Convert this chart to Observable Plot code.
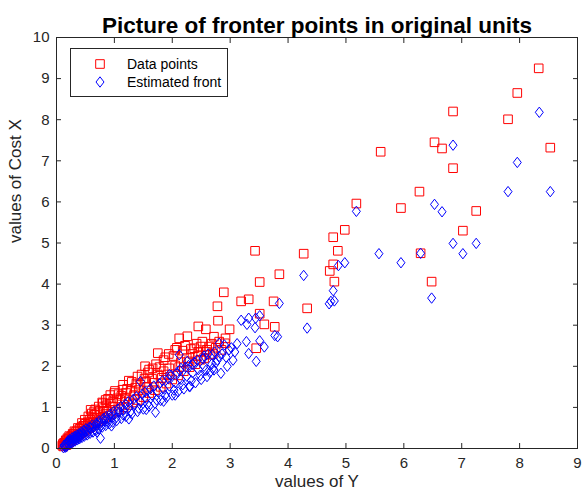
<!DOCTYPE html>
<html><head><meta charset="utf-8">
<script src="https://cdn.jsdelivr.net/npm/d3@7"></script>
<script src="https://cdn.jsdelivr.net/npm/@observablehq/plot@0.6"></script>
<style>
body{margin:0;background:#fff;}
#wrap{position:relative;width:582px;height:495px;font-family:"Liberation Sans",Arial,Helvetica,sans-serif;}
#legend{position:absolute;left:70px;top:48px;width:158px;height:49px;border:1px solid #262626;background:#fff;box-sizing:border-box;font-size:14px;color:#000;}
#legend .row{position:absolute;left:0;height:18px;line-height:18px;white-space:nowrap;}
#legend svg{position:absolute;left:20px;top:0;}
#legend span{position:absolute;left:56px;top:0;}
</style></head>
<body>
<div id="wrap"><div id="chart"></div><div id="legend"></div></div>
<script>
const xTicks = [0,1,2,3,4,5,6,7,8,9];
const yTicks = [0,1,2,3,4,5,6,7,8,9,10];
const titleText = "Picture of fronter points in original units";
const xLabel = "values of Y";
const yLabel = "values of Cost X";
const seriesNames = ["Data points", "Estimated front"];

// Data points (red squares): Y value, cost X
const dataY = [8.33,7.96,8.53,7.80,6.85,6.85,6.53,6.66,5.60,6.27,6.29,5.95,7.25,7.02,6.48,5.18,4.98,4.78,4.86,4.27,4.78,4.72,4.80,3.85,4.33,3.43,3.51,2.89,3.19,3.32,3.75,2.78,3.51,2.79,3.59,3.77,2.99,2.45,2.58,2.12,2.26,3.45,2.72,2.92,2.38,2.49,2.64,2.81,2.91,2.49,1.75,1.53,1.40,1.14,0.89,0.59,
0.12,0.14,0.15,0.17,0.18,0.20,0.21,0.23,0.24,0.26,0.27,0.29,0.30,0.32,0.33,0.35,0.36,0.38,0.40,0.41,0.43,0.45,0.46,0.48,0.50,0.52,0.54,0.56,0.58,0.60,0.62,0.64,0.66,0.68,0.70,0.72,0.75,0.78,0.80,0.83,0.86,0.89,0.92,0.95,0.98,1.02,1.05,1.08,1.12,1.16,1.20,1.24,1.28,1.32,1.36,1.40,1.45,1.50,1.55,1.60,1.65,1.70,1.75,1.80,1.85,1.90,1.95,2.00,2.05,2.10,2.15,2.20,2.25,2.30,2.35,2.40,2.45,2.55,2.60,2.65,1.25,1.00,0.80,0.65,1.60,1.85,2.05,
0.22,0.31,0.37,0.44,0.49,0.55,0.61,0.67,0.73,0.79,0.85,0.93,1.01,1.07,1.15,1.22,1.30,1.38,1.47,1.52,1.58,1.66,1.72,1.78,1.88,1.94,2.02,2.08,2.18,2.22,2.32,2.42,2.52,2.68,2.75,0.47,0.57,0.69,0.87,0.97,1.10,1.18,1.34,1.42,1.57,1.68,1.82,1.92,2.12,2.28,2.44,2.58,2.70,2.85,0.28,0.19,0.16,0.13,0.10,0.11];
const dataCost = [9.25,8.65,7.32,8.01,8.20,6.82,7.45,7.30,7.22,6.25,4.75,5.85,5.78,5.30,4.06,5.96,5.32,5.14,4.81,4.74,4.48,4.32,4.06,4.24,3.41,4.81,4.05,3.80,3.58,3.63,3.58,3.46,3.28,3.11,3.02,2.96,2.90,2.97,2.90,2.68,2.73,2.44,2.72,2.68,2.44,2.48,2.48,2.60,2.56,2.16,2.32,2.00,1.75,1.43,1.21,0.94,
0.05,0.10,0.15,0.08,0.20,0.13,0.24,0.17,0.28,0.20,0.32,0.24,0.35,0.27,0.40,0.30,0.44,0.33,0.48,0.36,0.52,0.40,0.55,0.43,0.60,0.46,0.64,0.50,0.70,0.53,0.76,0.58,0.82,0.62,0.86,0.66,0.92,0.70,0.98,0.75,1.05,0.80,1.10,0.85,1.15,0.90,1.22,0.95,1.28,1.00,1.35,1.06,1.40,1.12,1.48,1.18,1.55,1.25,1.62,1.35,1.70,1.42,1.80,1.50,1.88,1.58,1.95,1.68,2.02,1.78,2.10,1.88,2.20,1.98,2.30,2.05,2.35,2.20,2.40,2.28,1.65,1.35,1.10,0.90,1.92,2.15,2.40,
0.30,0.42,0.50,0.62,0.70,0.78,0.85,0.95,1.02,1.12,1.18,1.30,1.40,1.32,1.55,1.45,1.62,1.58,1.80,1.70,1.85,1.95,2.05,1.98,2.22,2.30,2.25,2.45,2.38,2.50,2.42,2.55,2.60,2.55,2.45,0.55,0.62,0.75,0.92,1.02,1.18,1.22,1.30,1.42,1.50,1.60,1.72,1.80,1.98,2.12,2.25,2.35,2.30,2.40,0.36,0.25,0.20,0.14,0.07,0.11];

// Estimated front (blue diamonds): Y value, cost X
const frontY = [8.34,7.96,8.53,7.80,6.85,6.85,6.53,6.66,5.57,6.29,5.95,7.25,7.02,6.48,5.18,4.98,4.87,4.27,4.78,4.74,4.71,4.80,3.85,4.33,3.43,3.51,3.19,3.32,3.44,3.29,3.77,3.82,3.28,3.51,3.59,3.32,3.45,2.90,2.81,2.98,2.69,2.81,2.75,2.84,2.72,2.26,2.12,
0.12,0.14,0.16,0.17,0.19,0.21,0.22,0.24,0.26,0.28,0.30,0.32,0.34,0.36,0.38,0.40,0.42,0.44,0.46,0.48,0.50,0.53,0.55,0.58,0.60,0.63,0.65,0.68,0.70,0.73,0.76,0.79,0.82,0.85,0.88,0.91,0.94,0.97,1.00,1.04,1.08,1.12,1.16,1.20,1.25,1.30,1.35,1.40,1.45,1.50,1.55,1.60,1.65,1.70,1.75,1.80,1.85,1.90,1.95,2.00,2.05,2.10,2.15,2.20,2.25,2.30,2.35,2.40,2.45,2.50,2.55,2.60,2.65,2.70,0.76,1.71,1.45,2.35,2.55,1.95,2.15,
0.13,0.15,0.18,0.20,0.23,0.25,0.27,0.29,0.31,0.33,0.35,0.37,0.39,0.41,0.43,0.47,0.51,0.54,0.57,0.62,0.66,0.69,0.74,0.78,0.81,0.86,0.90,0.93,0.99,1.03,1.06,1.11,1.15,1.19,1.24,1.28,1.33,1.38,1.42,1.48,1.53,1.57,1.62,1.68,1.73,1.78,1.83,1.88,1.93,1.98,2.03,2.08,2.13,2.18,2.23,2.28,2.33,2.38,2.43,2.48,2.53,2.58,2.62,2.68,2.73,2.78,2.86,2.93,3.02,3.08,3.12,3.05,2.95,1.25,1.55,1.85,2.05,2.30,0.95,0.70];
const frontCost = [8.18,6.96,6.25,6.25,7.38,4.99,5.94,5.76,4.74,4.75,4.52,4.99,4.74,3.66,5.77,4.52,4.45,4.21,3.84,3.58,3.52,3.59,3.53,2.93,2.94,3.23,3.12,3.17,3.17,3.02,2.75,2.72,2.60,2.62,2.47,2.31,2.12,2.52,2.56,2.40,2.28,2.24,2.08,1.83,1.91,2.12,2.28,
0.02,0.06,0.10,0.04,0.14,0.09,0.17,0.12,0.20,0.15,0.24,0.18,0.27,0.21,0.30,0.24,0.34,0.27,0.37,0.30,0.41,0.33,0.45,0.37,0.49,0.40,0.53,0.44,0.57,0.48,0.62,0.52,0.67,0.56,0.72,0.60,0.77,0.64,0.82,0.68,0.88,0.73,0.94,0.78,1.00,0.84,1.07,0.90,1.14,0.96,1.22,1.03,1.30,1.10,1.38,1.17,1.45,1.24,1.52,1.30,1.60,1.38,1.68,1.45,1.76,1.52,1.84,1.60,1.92,1.68,2.00,1.75,1.85,1.95,0.25,0.88,1.63,2.05,2.25,1.80,1.95,
0.08,0.03,0.12,0.19,0.22,0.16,0.26,0.20,0.29,0.23,0.33,0.26,0.36,0.29,0.40,0.44,0.48,0.39,0.52,0.57,0.47,0.62,0.67,0.57,0.73,0.78,0.66,0.84,0.90,0.75,0.96,1.02,0.82,1.08,1.14,0.90,1.20,1.26,0.98,1.32,1.38,1.08,1.45,1.52,1.18,1.58,1.65,1.30,1.70,1.78,1.42,1.85,1.90,1.55,1.98,2.02,1.65,2.10,2.15,1.78,2.18,1.90,2.30,2.05,2.35,2.15,2.30,2.22,2.45,2.35,2.55,2.15,2.00,0.72,0.95,1.15,1.30,1.50,0.55,0.40];

const dataPts = dataY.map((y, i) => ({y, cost: dataCost[i]}));
const frontPts = frontY.map((y, i) => ({y, cost: frontCost[i]}));

const squareSym = {draw(ctx, size){ const r = Math.sqrt(size/Math.PI); ctx.moveTo(-r,-r); ctx.lineTo(r,-r); ctx.lineTo(r,r); ctx.lineTo(-r,r); ctx.closePath(); }};
const diamondSym = {draw(ctx, size){ const r = Math.sqrt(size/Math.PI); ctx.moveTo(0,-1.3*r); ctx.lineTo(r,0); ctx.lineTo(0,1.3*r); ctx.lineTo(-r,0); ctx.closePath(); }};

const font = '"Liberation Sans", Arial, Helvetica, sans-serif';
const chart = Plot.plot({
  width: 582, height: 495,
  marginTop: 37, marginBottom: 47, marginLeft: 56, marginRight: 5,
  style: {fontFamily: font, background: "#fff", color: "#262626", overflow: "visible"},
  x: {domain: [0, 9], label: null},
  y: {domain: [0, 10], label: null},
  marks: [
    Plot.dot(dataPts, {x: "y", y: "cost", symbol: squareSym, r: 4.3, fill: "none", stroke: "#ff0000", strokeWidth: 1}),
    Plot.dot(frontPts, {x: "y", y: "cost", symbol: diamondSym, r: 4, fill: "none", stroke: "#0000ff", strokeWidth: 1}),
    Plot.frame({stroke: "#262626"}),
    Plot.axisX(xTicks, {anchor: "bottom", tickSize: -5, tickPadding: 14, fontSize: 15, label: null}),
    Plot.axisX(xTicks, {anchor: "top", tickSize: -5, tickFormat: () => "", label: null}),
    Plot.axisY(yTicks, {anchor: "left", tickSize: -5, tickPadding: 12, fontSize: 15, label: null}),
    Plot.axisY(yTicks, {anchor: "right", tickSize: -5, tickFormat: () => "", label: null}),
    Plot.text([titleText], {text: d => d, frameAnchor: "top", dy: -20, fontSize: 22.5, fontWeight: "bold", fill: "#000"}),
    Plot.text([xLabel], {text: d => d, frameAnchor: "bottom", dy: 38, fontSize: 17, fill: "#262626"}),
    Plot.text([yLabel], {text: d => d, frameAnchor: "left", dx: -41, rotate: -90, fontSize: 17, fill: "#262626"})
  ]
});
document.getElementById("chart").appendChild(chart);

// legend
const legend = document.getElementById("legend");
const items = [
  {name: seriesNames[0], sym: squareSym, r: 4.3, color: "#ff0000", top: 6},
  {name: seriesNames[1], sym: diamondSym, r: 4, color: "#0000ff", top: 24}
];
for (const it of items) {
  const row = document.createElement("div");
  row.className = "row";
  row.style.top = it.top + "px";
  const svg = d3.create("svg").attr("width", 18).attr("height", 18);
  svg.append("path")
    .attr("transform", "translate(9,9)")
    .attr("d", d3.symbol(it.sym, Math.PI * it.r * it.r)())
    .attr("fill", "none").attr("stroke", it.color).attr("stroke-width", 1);
  row.appendChild(svg.node());
  const span = document.createElement("span");
  span.textContent = it.name;
  row.appendChild(span);
  legend.appendChild(row);
}
</script>
</body></html>
